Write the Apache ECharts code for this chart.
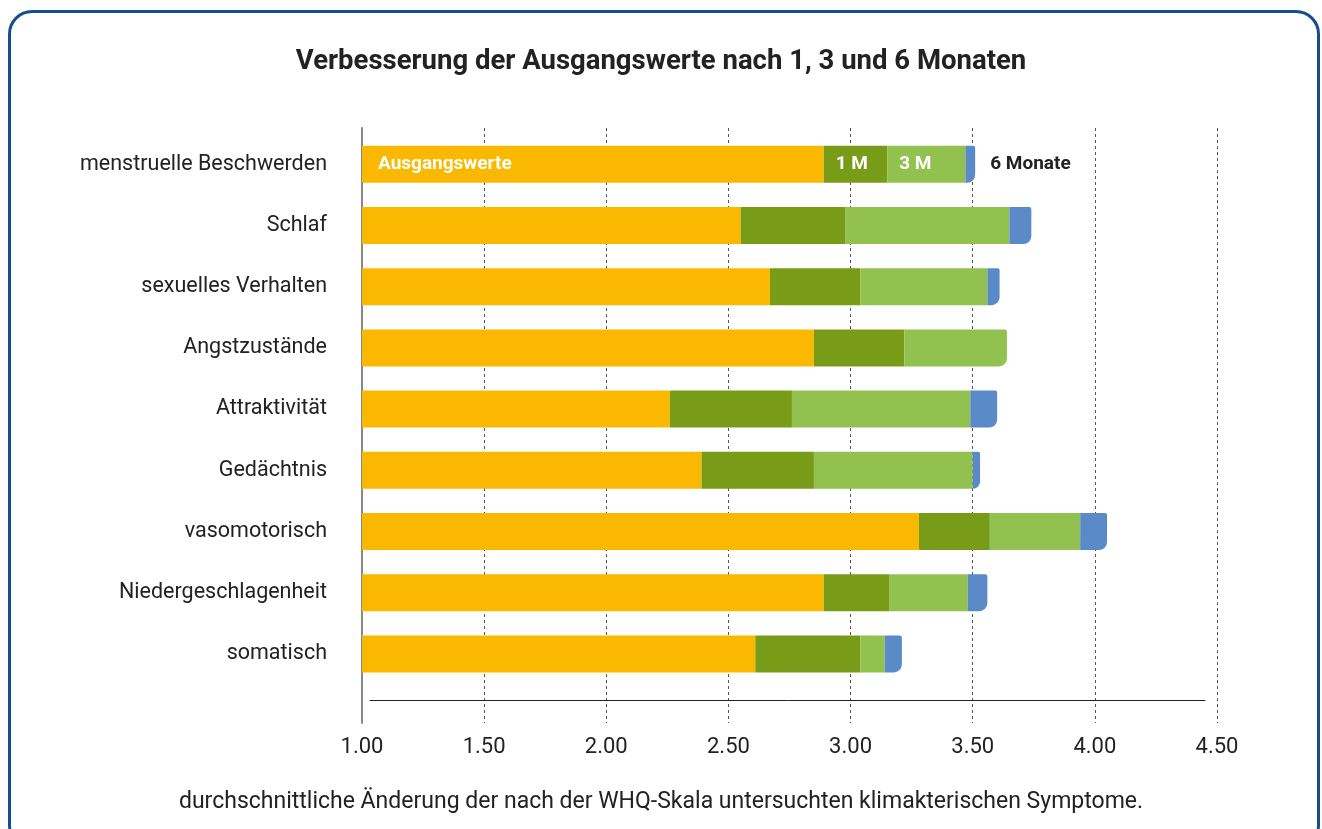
<!DOCTYPE html>
<html>
<head>
<meta charset="utf-8">
<script src="https://cdn.jsdelivr.net/npm/echarts@6/dist/echarts.min.js"></script>
<style>
html, body { margin: 0; padding: 0; background: #ffffff; }
#frame { position: absolute; left: 8px; top: 10px; width: 1312px; height: 840px; box-sizing: border-box; border: 3px solid #15508c; border-radius: 24px; }
#chart { position: absolute; left: 0; top: 0; width: 1322px; height: 829px; }
</style>
</head>
<body>
<div id="frame"></div>
<div id="chart"></div>
<script>
const categories = ['menstruelle Beschwerden', 'Schlaf', 'sexuelles Verhalten', 'Angstzustände', 'Attraktivität', 'Gedächtnis', 'vasomotorisch', 'Niedergeschlagenheit', 'somatisch'];
const baseline = [2.89, 2.55, 2.67, 2.85, 2.26, 2.39, 3.28, 2.89, 2.61];
const after1M  = [0.26, 0.43, 0.37, 0.37, 0.50, 0.46, 0.29, 0.27, 0.43];
const after3M  = [0.32, 0.67, 0.52, 0.42, 0.73, 0.65, 0.37, 0.32, 0.10];
const after6M  = [0.04, 0.09, 0.05, 0.00, 0.11, 0.03, 0.11, 0.08, 0.07];
const seriesNames = ['Ausgangswerte', '1 M', '3 M', '6 Monate'];
const seriesColors = ['#fab900', '#789c17', '#92c14f', '#5b8ac8'];
const titleText = 'Verbesserung der Ausgangswerte nach 1, 3 und 6 Monaten';
const axisNameText = 'durchschnittliche Änderung der nach der WHQ-Skala untersuchten klimakterischen Symptome.';

const FONT = 'Roboto';
const allValues = [baseline, after1M, after3M, after6M];

function lastIndex(row) {
  let last = 0;
  for (let s = 0; s < allValues.length; s++) if (allValues[s][row] > 0) last = s;
  return last;
}

const labelStyles = [
  { show: true, position: 'insideLeft', distance: 16, color: '#ffffff', fontWeight: 'bold', fontSize: 19, fontFamily: FONT },
  { show: true, position: 'insideLeft', distance: 12, color: '#ffffff', fontWeight: 'bold', fontSize: 19, fontFamily: FONT },
  { show: true, position: 'insideLeft', distance: 12, color: '#ffffff', fontWeight: 'bold', fontSize: 19, fontFamily: FONT },
  { show: true, position: 'right', distance: 15, color: '#222222', fontWeight: 'bold', fontSize: 19, fontFamily: FONT }
];

const series = allValues.map((vals, s) => ({
  name: seriesNames[s],
  type: 'bar',
  stack: 'total',
  xAxisIndex: 0,
  yAxisIndex: 0,
  barWidth: 37,
  itemStyle: { color: seriesColors[s] },
  emphasis: { disabled: true },
  data: vals.map((v, i) => {
    const item = { value: v };
    if (lastIndex(i) === s) item.itemStyle = { borderRadius: [0, 2, 8, 0] };
    if (i === 0) item.label = Object.assign({ formatter: seriesNames[s] }, labelStyles[s]);
    return item;
  })
}));

const chart = echarts.init(document.getElementById('chart'), null, { renderer: 'canvas' });
chart.setOption({
  backgroundColor: 'transparent',
  animation: false,
  title: [
    {
      text: titleText,
      left: 'center',
      top: 43,
      textStyle: { fontFamily: FONT, fontWeight: 'bold', fontSize: 27.5, color: '#222222' }
    },
    {
      text: axisNameText,
      left: 'center',
      top: 786,
      textStyle: { fontFamily: FONT, fontWeight: 'normal', fontSize: 23, color: '#222222' }
    }
  ],
  grid: [
    { left: 362, right: 105, top: 133.7, bottom: 144.5 },
    { left: 362, right: 105, top: 128, bottom: 106 },
    { left: 370, right: 117, top: 690, bottom: 129 }
  ],
  xAxis: [
    { type: 'value', gridIndex: 0, min: 1, max: 4.5, interval: 0.5, show: false },
    {
      type: 'value', gridIndex: 1, min: 1, max: 4.5, interval: 0.5,
      axisLine: { show: false }, axisTick: { show: false },
      axisLabel: { fontFamily: FONT, fontSize: 22, color: '#222222', margin: 13, formatter: v => v.toFixed(2) },
      splitLine: { show: true, lineStyle: { color: '#555555', type: [3, 3], width: 1 } }
    },
    {
      type: 'value', gridIndex: 2, min: 0, max: 1,
      axisLine: { show: true, onZero: false, lineStyle: { color: '#222222', width: 1 } },
      axisTick: { show: false }, axisLabel: { show: false }, splitLine: { show: false }
    }
  ],
  yAxis: [
    {
      type: 'category', gridIndex: 0, data: categories, inverse: true,
      axisLine: { show: false }, axisTick: { show: false },
      axisLabel: { fontFamily: FONT, fontSize: 21.5, color: '#222222', margin: 35 }
    },
    {
      type: 'value', gridIndex: 1, min: 0, max: 1,
      axisLine: { show: true, onZero: false, lineStyle: { color: '#888888', width: 2 } },
      axisTick: { show: false }, axisLabel: { show: false }, splitLine: { show: false }
    },
    {
      type: 'value', gridIndex: 2, min: 0, max: 1, show: false
    }
  ],
  series: series
});
</script>
</body>
</html>
